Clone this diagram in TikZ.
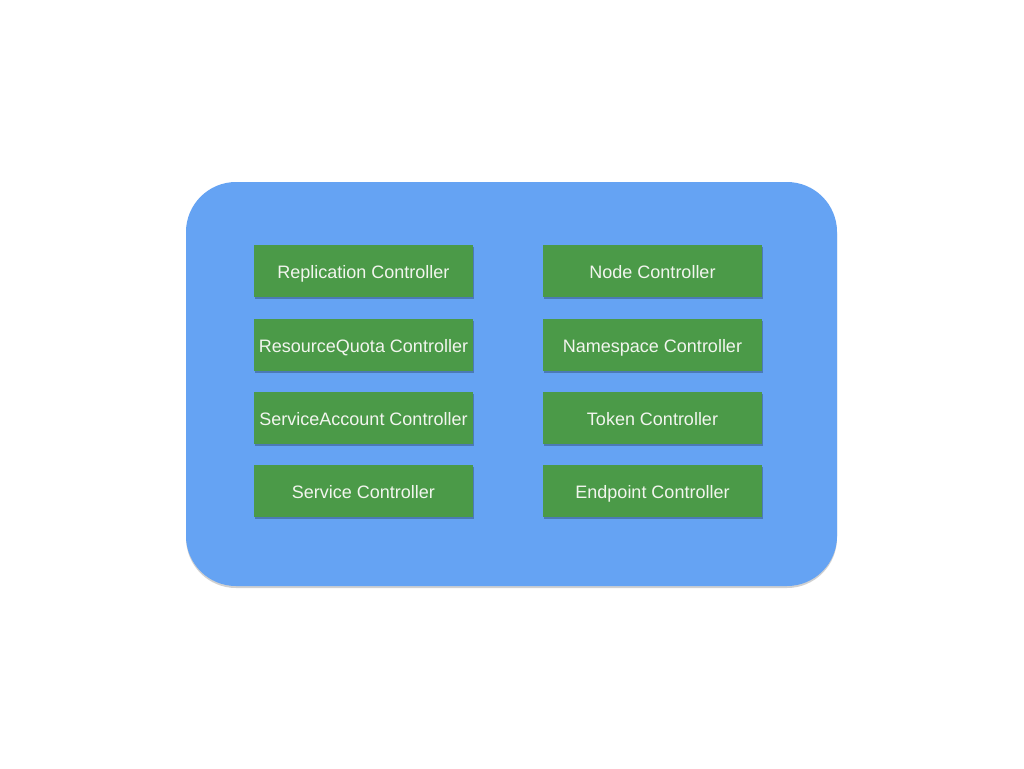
\documentclass[tikz,border=0pt]{standalone}
\usepackage{fontspec}
\setmainfont{Liberation Sans}
\usetikzlibrary{shadows}
\definecolor{bgblue}{HTML}{65A3F3}
\definecolor{ctlgreen}{HTML}{4B9A48}
\definecolor{txtwhite}{HTML}{F2F5EE}
\begin{document}
\begin{tikzpicture}[x=1pt,y=-1pt,
  ctl/.style={fill=ctlgreen, draw=none, minimum width=219pt, minimum height=52pt,
    inner sep=0pt, text=txtwhite, font=\fontsize{18}{21}\selectfont,
    text height=16pt, text depth=1pt,
    drop shadow={shadow xshift=1pt, shadow yshift=-1.5pt, opacity=0.25, fill=black}},
  outer/.style={fill=bgblue, draw=none, rounded corners=50pt,
    drop shadow={shadow xshift=0pt, shadow yshift=-2pt, opacity=0.3, fill=black!60}}]
\useasboundingbox (0,0) rectangle (1024,768);
\fill[white] (0,0) rectangle (1024,768);
\node[outer, minimum width=651pt, minimum height=404pt, inner sep=0pt] (frame) at (511.5,384) {};
\node[ctl] (rc) at (363.5,271) {Replication Controller};
\node[ctl] (rq) at (363.5,345) {ResourceQuota Controller};
\node[ctl] (sa) at (363.5,418) {ServiceAccount Controller};
\node[ctl] (sc) at (363.5,491) {Service Controller};
\node[ctl] (nc) at (652.5,271) {Node Controller};
\node[ctl] (ns) at (652.5,345) {Namespace Controller};
\node[ctl] (tc) at (652.5,418) {Token Controller};
\node[ctl] (ec) at (652.5,491) {Endpoint Controller};
\end{tikzpicture}
\end{document}
